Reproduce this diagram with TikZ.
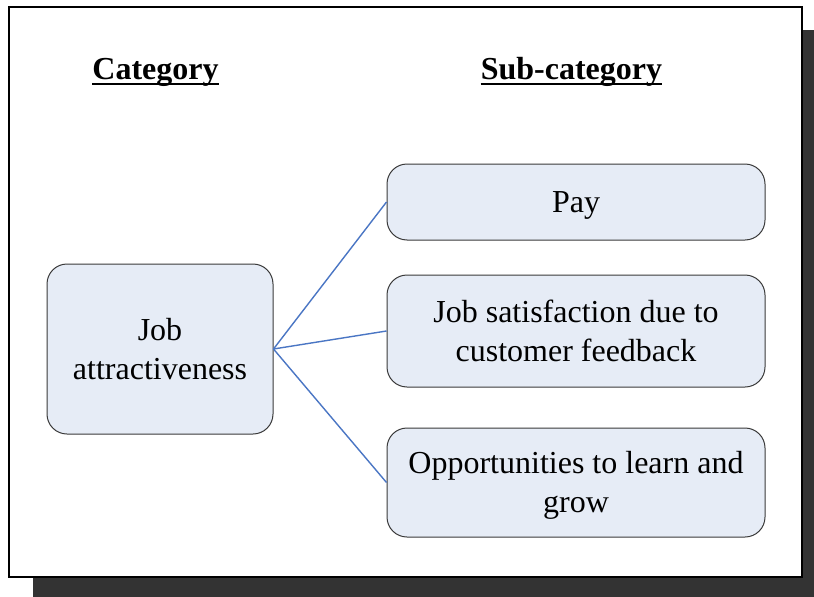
\documentclass[tikz,border=0pt]{standalone}
\usepackage{fontspec}
\setmainfont{Liberation Serif}
\definecolor{boxfill}{HTML}{E6ECF6}
\definecolor{boxline}{HTML}{3A3A3A}
\definecolor{linkblue}{HTML}{4A76C4}
\definecolor{shadowgray}{HTML}{333333}
\newcommand{\lowertext}[1]{\raisebox{-3pt}[\height][\depth]{#1}}
\begin{document}
\begin{tikzpicture}[x=1pt,y=-1pt,
  catbox/.style={draw=boxline, line width=1pt, fill=boxfill, rounded corners=20pt, align=center, inner sep=0pt,
    font=\fontsize{32}{38.4}\selectfont},
  heading/.style={inner sep=0pt, font=\fontsize{32}{38.4}\selectfont\bfseries, anchor=base},
  link/.style={draw=linkblue, line width=1.4pt}]
\useasboundingbox (0,0) rectangle (814,597);
\fill[shadowgray] (33,30) rectangle (814,597);
\draw[fill=white, line width=1.5pt] (9,7) rectangle (802,577);
\node[heading] (cat) at (155.5,79) {Category};
\node[heading] (sub) at (571.5,79) {Sub-category};
\draw[line width=2.6pt] ([yshift=-5pt]cat.base west) -- ([yshift=-5pt]cat.base east);
\draw[line width=2.6pt] ([yshift=-5pt]sub.base west) -- ([yshift=-5pt]sub.base east);
\node[catbox, minimum width=226pt, minimum height=170pt] (job) at (160,349) {Job\\attractiveness};
\node[catbox, minimum width=378pt, minimum height=76pt] (pay) at (576,202) {\lowertext{Pay}};
\node[catbox, minimum width=378pt, minimum height=112pt] (sat) at (576,331) {Job satisfaction due to\\customer feedback};
\node[catbox, minimum width=378pt, minimum height=109pt] (opp) at (576,482.5) {\lowertext{Opportunities to learn and}\\\lowertext{grow}};
\draw[link] (job.east) -- (pay.west);
\draw[link] (job.east) -- (sat.west);
\draw[link] (job.east) -- (opp.west);
\end{tikzpicture}
\end{document}
